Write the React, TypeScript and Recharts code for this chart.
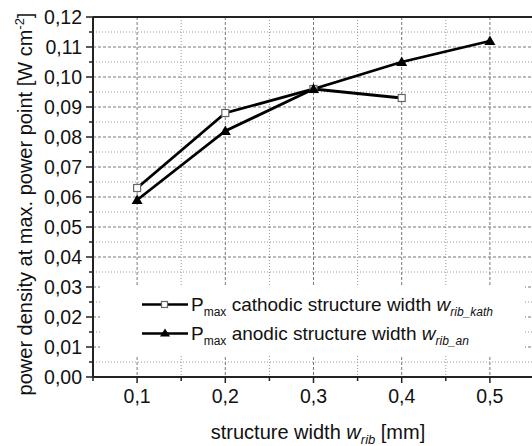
import { LineChart, Line, XAxis, YAxis, CartesianGrid, ReferenceLine, Legend } from 'recharts'

const widths = [0.1, 0.2, 0.3, 0.4, 0.5]
const cathodic = [0.063, 0.088, 0.096, 0.093, null]
const anodic = [0.059, 0.082, 0.096, 0.105, 0.112]

const xMajor = [0.1, 0.2, 0.3, 0.4, 0.5]
const xMinor = [0.05, 0.15, 0.25, 0.35, 0.45, 0.55]
const yMajor = [0, 0.01, 0.02, 0.03, 0.04, 0.05, 0.06, 0.07, 0.08, 0.09, 0.1, 0.11, 0.12]
const yMinor = [0.005, 0.015, 0.025, 0.035, 0.045, 0.055, 0.065, 0.075, 0.085, 0.095, 0.105, 0.115]

const data = widths.map((w, i) => ({ w, kath: cathodic[i], an: anodic[i] }))

const FONT = '"Liberation Sans", Arial, sans-serif'
const AXIS = '#222'

const isMajor = (v: number, list: number[]) => list.some((m) => Math.abs(m - v) < 1e-9)
const comma = (v: number, digits: number) => v.toFixed(digits).replace('.', ',')

const YTick = ({ x, y, payload }: any) => {
  const major = isMajor(payload.value, yMajor)
  return (
    <g>
      <line x1={x} x2={x - (major ? 7 : 4)} y1={y} y2={y} stroke={AXIS} strokeWidth={1.5} />
      {major && (
        <text x={x - 11} y={y} dy="0.36em" textAnchor="end" fontSize={19.5} fontFamily={FONT} fill="#111">
          {comma(payload.value, 2)}
        </text>
      )}
    </g>
  )
}

const XTick = ({ x, y, payload }: any) => {
  const major = isMajor(payload.value, xMajor)
  return (
    <g>
      <line x1={x} x2={x} y1={y} y2={y + (major ? 6 : 4)} stroke={AXIS} strokeWidth={1.5} />
      {major && (
        <text x={x} y={y + 26} textAnchor="middle" fontSize={19.5} fontFamily={FONT} fill="#111">
          {comma(payload.value, 1)}
        </text>
      )}
    </g>
  )
}

const Square = ({ cx, cy }: any) =>
  cx == null || cy == null ? (
    <g />
  ) : (
    <rect x={cx - 3.5} y={cy - 3.5} width={7} height={7} fill="#fff" stroke="#666" strokeWidth={1.2} />
  )

const Triangle = ({ cx, cy }: any) =>
  cx == null || cy == null ? (
    <g />
  ) : (
    <polygon points={`${cx},${cy - 5.5} ${cx - 5.5},${cy + 4} ${cx + 5.5},${cy + 4}`} fill="#000" />
  )

const XTitle = () => (
  <text x={318} y={439} textAnchor="middle" fontSize={20} fontFamily={FONT} fill="#111">
    structure width <tspan fontStyle="italic">w</tspan>
    <tspan dy={5} fontSize={13} fontStyle="italic">rib</tspan>
    <tspan dy={-5}> [mm]</tspan>
  </text>
)

const YTitle = () => (
  <text transform="rotate(-90)" x={-204} y={32} textAnchor="middle" fontSize={20} fontFamily={FONT} fill="#111">
    power density at max. power point [W cm<tspan dy={-8} fontSize={13}>-2</tspan>
    <tspan dy={8}>]</tspan>
  </text>
)

const sub: React.CSSProperties = { fontSize: 12, verticalAlign: -5, lineHeight: 1 }

const LegendSymbol = ({ kind }: { kind: 'square' | 'triangle' }) => (
  <svg width={46} height={29} style={{ verticalAlign: 'top', marginRight: 3 }}>
    <line x1={0} x2={46} y1={14.5} y2={14.5} stroke="#000" strokeWidth={2.6} />
    {kind === 'square' ? (
      <rect x={19.5} y={11.5} width={6} height={6} fill="#fff" stroke="#666" strokeWidth={1.2} />
    ) : (
      <polygon points="23,9.5 18,17.5 28,17.5" fill="#000" />
    )}
  </svg>
)

const LegendBox = () => (
  <div style={{ fontFamily: FONT, fontSize: 19, color: '#111', paddingTop: 4, paddingLeft: 42 }}>
    <div style={{ height: 29, lineHeight: '29px', whiteSpace: 'nowrap' }}>
      <LegendSymbol kind="square" />
      P<span style={sub}>max</span> cathodic structure width <i>w</i>
      <span style={{ ...sub, fontStyle: 'italic' }}>rib_kath</span>
    </div>
    <div style={{ height: 29, lineHeight: '29px', whiteSpace: 'nowrap' }}>
      <LegendSymbol kind="triangle" />
      P<span style={sub}>max</span> anodic structure width <i>w</i>
      <span style={{ ...sub, fontStyle: 'italic' }}>rib_an</span>
    </div>
  </div>
)

export default function App() {
  return (
    <div style={{ position: 'absolute', left: 0, top: 0, width: 532, height: 446, overflow: 'hidden', background: '#fff' }}>
      <LineChart width={560} height={446} data={data} margin={{ top: 17, right: 26, bottom: 0, left: 0 }}>
        {/* light dotted minor grid, darker dashed major grid on top */}
        <CartesianGrid
          horizontalValues={yMinor}
          verticalValues={xMinor}
          stroke="#999"
          strokeDasharray="1 2"
        />
        <CartesianGrid
          horizontalValues={yMajor}
          verticalValues={xMajor}
          stroke="#777"
          strokeDasharray="3 2"
        />
        <XAxis
          dataKey="w"
          type="number"
          domain={[0.05, 0.55]}
          ticks={[0.05, 0.1, 0.15, 0.2, 0.25, 0.3, 0.35, 0.4, 0.45, 0.5, 0.55]}
          tick={<XTick />}
          tickLine={false}
          tickSize={0}
          tickMargin={0}
          interval={0}
          height={69}
          axisLine={{ stroke: AXIS, strokeWidth: 2 }}
          label={{ content: () => <XTitle /> }}
        />
        <YAxis
          type="number"
          domain={[0, 0.12]}
          ticks={[...yMajor, ...yMinor].sort((a, b) => a - b)}
          tick={<YTick />}
          tickLine={false}
          tickSize={0}
          tickMargin={0}
          interval={0}
          width={93}
          axisLine={{ stroke: AXIS, strokeWidth: 2 }}
          label={{ content: () => <YTitle /> }}
        />
        <ReferenceLine y={0.12} stroke={AXIS} strokeWidth={2} />
        <Line
          dataKey="kath"
          stroke="#000"
          strokeWidth={2.8}
          dot={(p: any) => <Square key={`k${p.index}`} {...p} />}
          activeDot={false}
          isAnimationActive={false}
        />
        <Line
          dataKey="an"
          stroke="#000"
          strokeWidth={2.8}
          dot={(p: any) => <Triangle key={`a${p.index}`} {...p} />}
          activeDot={false}
          isAnimationActive={false}
        />
        <Legend
          layout="vertical"
          align="center"
          verticalAlign="middle"
          content={() => <LegendBox />}
          wrapperStyle={{ position: 'absolute', left: 100, top: 286, width: 425, height: 69, background: '#fff' }}
        />
      </LineChart>
    </div>
  )
}
